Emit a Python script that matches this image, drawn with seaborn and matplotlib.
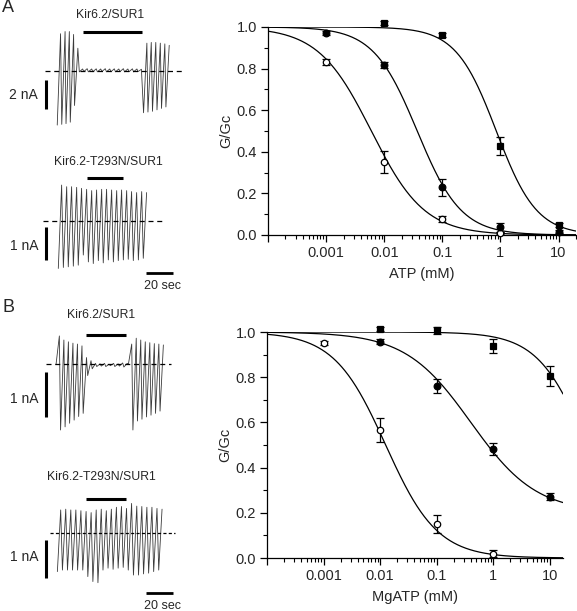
import numpy as np
import pandas as pd
import seaborn as sns
import matplotlib
matplotlib.use("Agg")
import matplotlib.pyplot as plt
from matplotlib.ticker import FixedLocator, NullFormatter, FixedFormatter

# ---- dose-response data (G/Gc) ----
conc_a_open = [0.001, 0.01, 0.1, 1]
g_a_open = [0.83, 0.35, 0.077, 0.008]
err_a_open = [0.015, 0.052, 0.015, 0.005]
conc_a_circ = [0.001, 0.01, 0.1, 1, 10]
g_a_circ = [0.971, 0.819, 0.229, 0.037, 0.016]
err_a_circ = [0.01, 0.015, 0.04, 0.022, 0.006]
conc_a_sq = [0.01, 0.1, 1, 10]
g_a_sq = [1.019, 0.96, 0.429, 0.048]
err_a_sq = [0.01, 0.01, 0.042, 0.01]

conc_b_open = [0.001, 0.01, 0.1, 1]
g_b_open = [0.951, 0.567, 0.149, 0.019]
err_b_open = [0.01, 0.054, 0.04, 0.015]
conc_b_circ = [0.01, 0.1, 1, 10]
g_b_circ = [0.957, 0.759, 0.481, 0.271]
err_b_circ = [0.01, 0.031, 0.027, 0.015]
conc_b_sq = [0.01, 0.1, 1, 10]
g_b_sq = [1.013, 1.007, 0.939, 0.806]
err_b_sq = [0.01, 0.015, 0.032, 0.044]

# Hill fit parameters: [IC50 (mM), hill coefficient, plateau]
fit_a = {"open": [0.006, 0.95, 0.0], "circ": [0.037, 1.15, 0.0], "sq": [0.85, 1.25, 0.0]}
fit_b = {"open": [0.0125, 0.95, 0.0], "circ": [0.4, 0.75, 0.2], "sq": [45.0, 1.0, 0.0]}

xtick_vals = [1e-4, 0.001, 0.01, 0.1, 1, 10]
xtick_labels = ["", "0.001", "0.01", "0.1", "1", "10"]

# ---- current traces: cycle start times (s), lower and upper peaks (nA) ----
a1_t = [9.2, 12.6, 15.8, 19.0, 22.2,
        25.8, 29.2, 32.6, 36.0, 39.4, 42.8, 46.2, 49.6, 53.0, 56.4, 59.8, 63.2, 66.6, 70.0,
        74.1, 77.4, 80.8, 84.2, 87.6, 90.9]
a1_lo = [-3.75, -3.7, -3.65, -3.55, -2.4,
         -0.08, -0.06, -0.08, -0.07, -0.08, -0.06, -0.08, -0.07, -0.08, -0.06, -0.08, -0.07, -0.08, -0.06,
         -2.9, -2.85, -2.8, -2.7, -2.6, -2.5]
a1_hi = [2.55, 2.7, 2.7, 2.5, 1.55,
         0.12, 0.14, 0.12, 0.13, 0.12, 0.14, 0.12, 0.13, 0.12, 0.14, 0.12, 0.13, 0.12, 0.1,
         1.9, 1.95, 1.95, 1.9, 1.85, 1.75]

a2_t = [10.0, 13.8, 17.5, 21.3, 25.0, 28.8, 32.6, 36.3, 40.1, 43.8, 47.6, 51.4, 55.1, 58.9,
        62.6, 66.4, 70.2, 73.9]
a2_lo = [-1.46, -1.43, -1.41, -1.39, -1.36, -1.05, -1.26, -1.31, -1.22, -1.29, -1.20, -1.26,
         -1.22, -1.20, -1.18, -1.22, -1.20, -1.15]
a2_hi = [1.09, 1.04, 1.04, 1.02, 0.99, 0.96, 0.92, 0.94, 0.96, 0.96, 0.94, 0.92, 0.94, 0.92,
         0.89, 0.86, 0.89, 0.86]

b1_t = [8.3, 11.7, 15.1, 18.5, 21.9, 25.3, 28.7, 32.1, 35.5, 38.9, 42.3, 45.7, 49.1, 52.5,
        55.9, 59.3, 62.7, 66.1, 69.5, 72.9, 76.3, 79.7, 83.1, 86.5]
b1_lo = [0.0, -1.46, -1.39, -1.31, -1.24, -1.16, -1.09,
         -0.25, -0.1, -0.05, -0.04, -0.05, -0.03, -0.05, -0.04, -0.06,
         0.0, -1.46, -1.26, -1.22, -1.17, -1.13, -1.09, -1.04]
b1_hi = [0.63, 0.54, 0.50, 0.47, 0.45, 0.41, 0.15,
         0.08, 0.02, 0.01, 0.02, 0.0, 0.02, 0.01, 0.03, 0.02,
         0.45, 0.58, 0.54, 0.5, 0.48, 0.46, 0.45, 0.43]

b2_t = [9.3, 13.1, 16.9, 20.7, 24.5, 28.4, 32.2, 36.0, 39.8, 43.6, 47.4, 51.2, 55.0, 58.8,
        62.6, 66.5, 70.3, 74.1, 77.9, 81.7, 85.5]
b2_lo = [-1.0, -0.96, -0.96, -0.96, -0.96, -0.96, -1.13, -1.26, -1.29, -0.96, -0.91, -0.94,
         -0.91, -0.89, -0.96, -1.09, -1.09, -1.06, -1.04, -1.0, -0.96]
b2_hi = [0.61, 0.63, 0.61, 0.61, 0.59, 0.57, 0.54, 0.61, 0.63, 0.59, 0.63, 0.68, 0.70, 0.65,
         0.78, 0.71, 0.70, 0.68, 0.68, 0.65, 0.63]

# nucleotide application bars [start, end] (s)
app_a1, app_a2, app_b1, app_b2 = [28.6, 72.9], [31.4, 58.9], [30.8, 60.9], [30.8, 60.9]
zero_a1, zero_a2, zero_b1, zero_b2 = [0, 103], [-1.5, 88.7], [0.75, 94.7], [3.8, 97.7]

# ---- layout ----
W, H = 577, 611
sns.set_style("ticks")
plt.rcParams["font.family"] = ["Liberation Sans", "DejaVu Sans"]
fig = plt.figure(figsize=(W / 100, H / 100), dpi=100)

PX_S = 1.33   # px per second
T0 = 45       # px of t=0


def px_box(left, top, right, bottom):
    return [left / W, 1 - bottom / H, (right - left) / W, (bottom - top) / H]


def ftext(x, y, s, **kw):
    fig.text(x / W, 1 - y / H, s, **kw)


def trace_axes(top, bottom, zero, px_na):
    ax = fig.add_axes(px_box(0, top, 230, bottom))
    ax.set_xlim((0 - T0) / PX_S, (230 - T0) / PX_S)
    ax.set_ylim((zero - bottom) / px_na, (zero - top) / px_na)
    ax.axis("off")
    return ax


def draw_trace(ax, t, lo, hi, app, zero, app_y, bar_lo, timebar=None, dash=(4, 3)):
    xs, ys = [], []
    for tk, l, h in zip(t, lo, hi):
        xs += [tk, tk + 2.5]
        ys += [l, h]
    df = pd.DataFrame({"t": xs, "i": ys})
    sns.lineplot(data=df, x="t", y="i", ax=ax, sort=False, estimator=None,
                 color="#3a3a3a", lw=0.6)
    ax.plot(zero, [0, 0], color="black", lw=0.9, dashes=dash)
    ax.plot(app, [app_y, app_y], color="black", lw=2.2, solid_capstyle="butt")
    ax.plot([0.75, 0.75], bar_lo, color="black", lw=2.2, solid_capstyle="butt")
    if timebar is not None:
        ax.plot([75.9, 95.9], [timebar, timebar], color="black", lw=2.0, solid_capstyle="butt")


ax_a1 = trace_axes(20, 135, 70.7, 14.5)
draw_trace(ax_a1, a1_t, a1_lo, a1_hi, app_a1, zero_a1, 2.67, [-0.64, -2.64])
ax_a2 = trace_axes(170, 295, 220.7, 32.7)
draw_trace(ax_a2, a2_t, a2_lo, a2_hi, app_a2, zero_a2, 1.30, [-0.2, -1.2], timebar=-1.59)
ax_b1 = trace_axes(322, 445, 364.3, 45.0)
draw_trace(ax_b1, b1_t, b1_lo, b1_hi, app_b1, zero_b1, 0.65, [-0.16, -1.16])
ax_b2 = trace_axes(485, 611, 533.3, 38.3)
draw_trace(ax_b2, b2_t, b2_lo, b2_hi, app_b2, zero_b2, 0.90, [-0.17, -1.17], timebar=-1.55,
           dash=(2.5, 1.8))

tfs = 8.8
ftext(2, 8, "A", fontsize=13, va="center", ha="left")
ftext(2, 307, "B", fontsize=13, va="center", ha="left")
ftext(110, 15, "Kir6.2/SUR1", fontsize=tfs, ha="center", va="center")
ftext(108, 162, "Kir6.2-T293N/SUR1", fontsize=tfs, ha="center", va="center")
ftext(101, 315, "Kir6.2/SUR1", fontsize=tfs, ha="center", va="center")
ftext(101, 477, "Kir6.2-T293N/SUR1", fontsize=tfs, ha="center", va="center")
ftext(38, 95, "2 nA", fontsize=10, ha="right", va="center")
ftext(38, 246, "1 nA", fontsize=10, ha="right", va="center")
ftext(38, 399, "1 nA", fontsize=10, ha="right", va="center")
ftext(38, 557, "1 nA", fontsize=10, ha="right", va="center")
ftext(163, 286, "20 sec", fontsize=9, ha="center", va="center")
ftext(163, 606, "20 sec", fontsize=9, ha="center", va="center")


# ---- dose-response panels ----
def hill(x, p):
    ic50, h, base = p
    return base + (1 - base) / (1 + (x / ic50) ** h)


def dose_panel(box, xmax, series, fits, xlabel):
    ax = fig.add_axes(px_box(*box))
    xs = np.logspace(-4, np.log10(xmax), 400)
    for key in ["open", "circ", "sq"]:
        sns.lineplot(x=xs, y=hill(xs, fits[key]), ax=ax, color="black", lw=0.9)
    styles = {"open": ("o", "white", 4.6), "circ": ("o", "black", 4.8), "sq": ("s", "black", 4.3)}
    for key, (c, g, e) in series.items():
        m, fc, ms = styles[key]
        eb = ax.errorbar(c, g, yerr=e, fmt=m, mfc=fc, mec="black", mew=0.9, ms=ms,
                         ecolor="black", elinewidth=0.9, capsize=3.2, capthick=0.9, zorder=4)
        eb.lines[0].set_clip_on(False)
        for art in list(eb.lines[1]) + list(eb.lines[2]):
            art.set_clip_on(False)
    ax.set_xscale("log")
    ax.set_xlim(1e-4, xmax)
    ax.set_ylim(0, 1.0)
    sns.despine(ax=ax)
    ax.xaxis.set_major_locator(FixedLocator(xtick_vals))
    ax.xaxis.set_major_formatter(FixedFormatter(xtick_labels))
    minors = [m * d for d in [1e-4, 1e-3, 1e-2, 1e-1, 1, 10] for m in range(2, 10)]
    ax.xaxis.set_minor_locator(FixedLocator([v for v in minors if v <= xmax]))
    ax.xaxis.set_minor_formatter(NullFormatter())
    ax.set_yticks([0, 0.2, 0.4, 0.6, 0.8, 1.0])
    ax.set_yticklabels(["0.0", "0.2", "0.4", "0.6", "0.8", "1.0"])
    ax.set_yticks(np.arange(0.1, 1.0, 0.2), minor=True)
    ax.tick_params(which="major", length=5, width=0.9, labelsize=10.5, pad=3, color="black")
    ax.tick_params(which="minor", length=3, width=0.8, color="black")
    for s in ["left", "bottom"]:
        ax.spines[s].set_linewidth(0.9)
        ax.spines[s].set_color("black")
    ax.set_xlabel(xlabel, fontsize=10.5, labelpad=5)
    ax.set_ylabel("G/Gc", fontsize=10.5, labelpad=2)
    return ax


dose_panel((268, 27, 576, 235), 20,
           {"open": (conc_a_open, g_a_open, err_a_open),
            "circ": (conc_a_circ, g_a_circ, err_a_circ),
            "sq": (conc_a_sq, g_a_sq, err_a_sq)},
           fit_a, "ATP (mM)")
dose_panel((267, 332, 563, 558), 17,
           {"open": (conc_b_open, g_b_open, err_b_open),
            "circ": (conc_b_circ, g_b_circ, err_b_circ),
            "sq": (conc_b_sq, g_b_sq, err_b_sq)},
           fit_b, "MgATP (mM)")

fig.savefig("out.png", dpi=100)
